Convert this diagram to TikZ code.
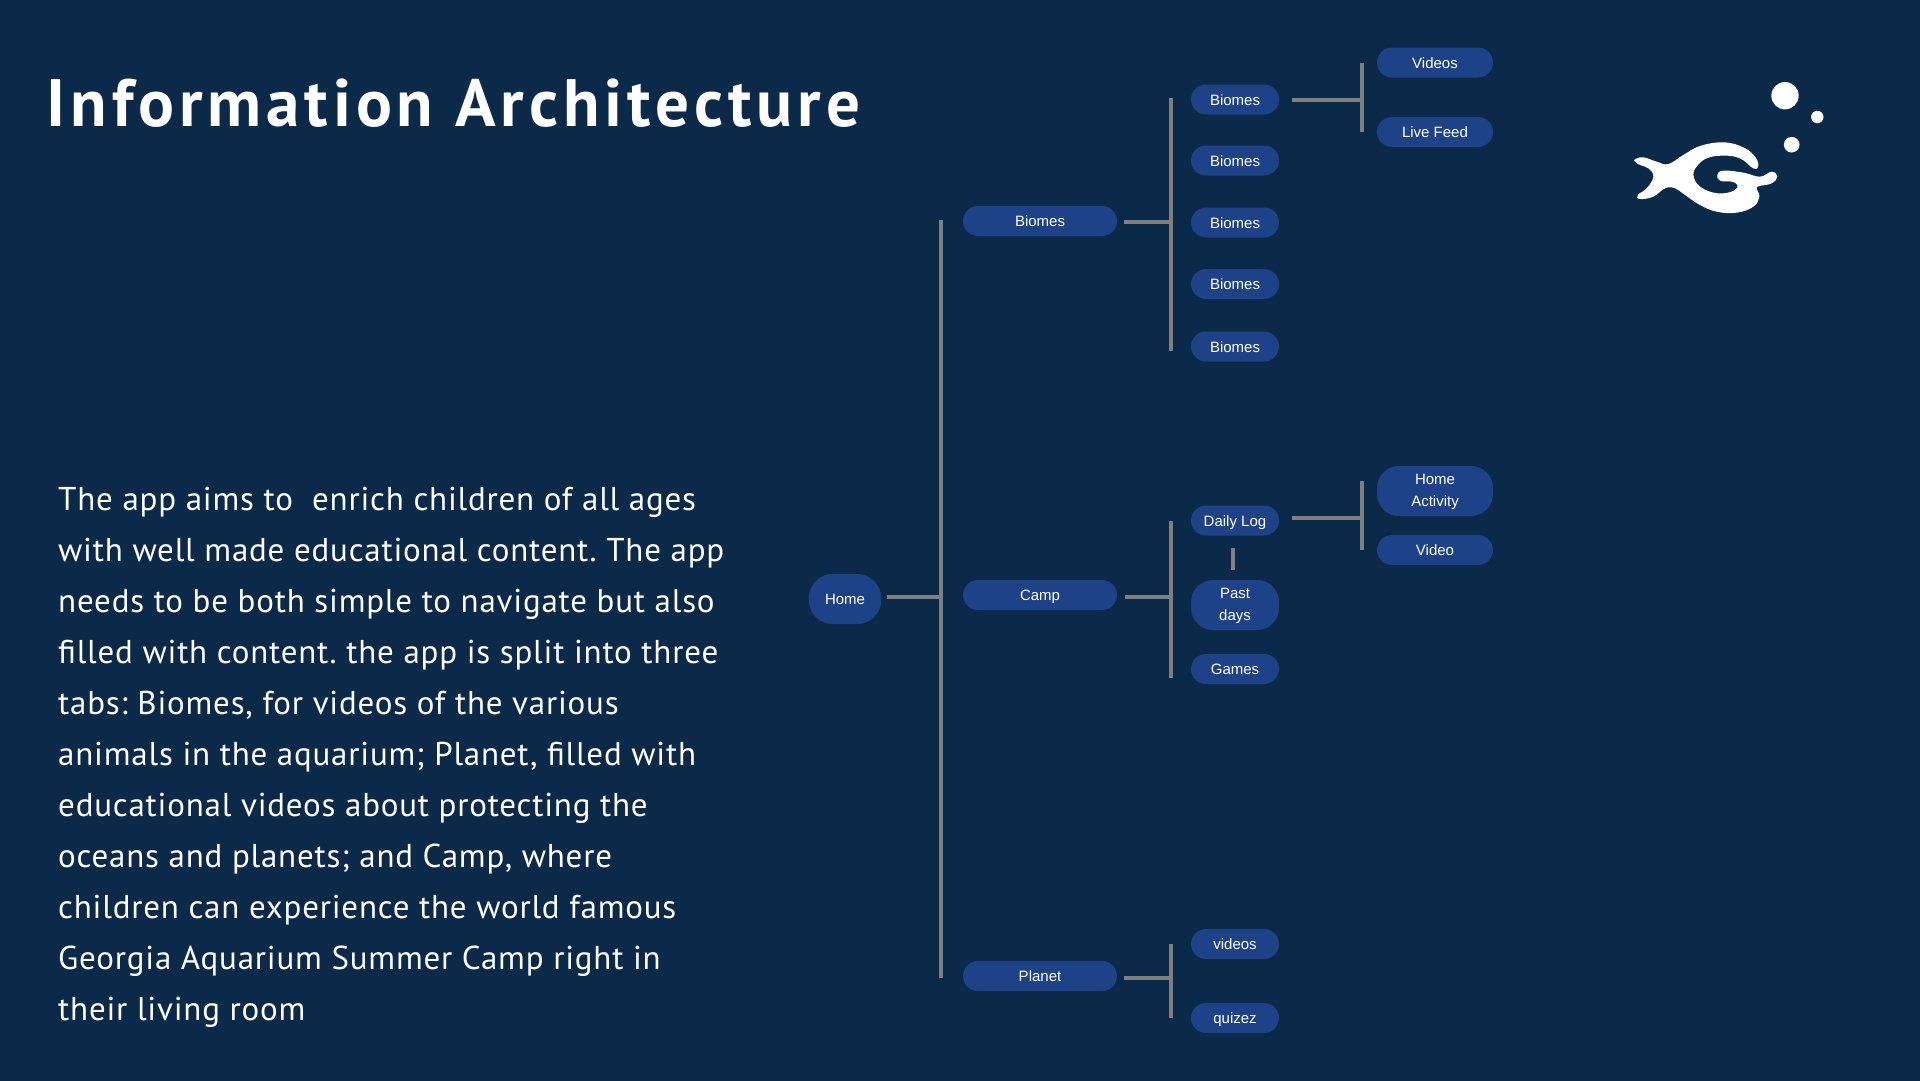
\documentclass[tikz,border=0pt]{standalone}
\usepackage{fontspec}
\setmainfont{PT Sans}
\newfontfamily\labelfont{Liberation Sans}
\definecolor{bgblue}{HTML}{0B2949}
\definecolor{pillblue}{HTML}{1E4288}
\definecolor{linegray}{HTML}{808080}
\newcommand{\firstline}{\rule{0pt}{12.8pt}}
\frenchspacing
\tikzset{
  pill/.style={fill=pillblue,rounded corners=15pt,inner sep=0pt,text=white,align=center,
    font=\labelfont\fontsize{15}{22}\selectfont},
  oneline/.style={text height=11pt,text depth=0pt},
  wide/.style={pill,oneline,minimum width=154pt,minimum height=30pt},
  mid/.style={pill,oneline,minimum width=88pt,minimum height=30pt},
  tall/.style={pill,minimum width=88pt,minimum height=50pt,rounded corners=22pt},
  far/.style={pill,oneline,minimum width=116pt,minimum height=30pt},
  fartall/.style={pill,minimum width=116pt,minimum height=50pt,rounded corners=22pt},
  trunk/.style={draw=linegray,line width=3.6pt},
  branch/.style={draw=linegray,line width=4pt},
}
\begin{document}
\begin{tikzpicture}[x=1pt,y=-1pt]
\useasboundingbox (0,0) rectangle (1920,1080);
\fill[bgblue] (-5,-5) rectangle (1925,1085);
\node[anchor=base west,text=white,font=\bfseries\fontsize{67}{70}\selectfont\addfontfeature{LetterSpace=7.4}] (title) at (43,126) {Information Architecture};
\node[anchor=north west,text=white,inner sep=0pt,align=left,font=\fontsize{33}{51}\selectfont\addfontfeature{LetterSpace=2.4}] (body) at (58,487) {The app aims to\ \ enrich children of all ages\\
with well made educational content. The app\\
needs to be both simple to navigate but also\\
filled with content. the app is split into three\\
tabs: Biomes, for videos of the various\\
animals in the aquarium; Planet, filled with\\
educational videos about protecting the\\
oceans and planets; and Camp, where\\
children can experience the world famous\\
Georgia Aquarium Summer Camp right in\\
their living room};
% nodes
\node[pill,oneline,minimum width=72.5pt,minimum height=50pt,rounded corners=24pt] (home) at (845,599) {Home};
\node[wide] (biomes) at (1040,221) {Biomes};
\node[wide] (camp) at (1040,595) {Camp};
\node[wide] (planet) at (1040,976) {Planet};
\node[mid] (b1) at (1235,99.5) {Biomes};
\node[mid] (b2) at (1235,160.5) {Biomes};
\node[mid] (b3) at (1235,222.5) {Biomes};
\node[mid] (b4) at (1235,284) {Biomes};
\node[mid] (b5) at (1235,346.5) {Biomes};
\node[far] (videos) at (1435,62.5) {Videos};
\node[far] (live) at (1435,132) {Live Feed};
\node[mid] (daily) at (1235,520.5) {Daily Log};
\node[tall] (past) at (1235,605) {\firstline Past\\days};
\node[mid] (games) at (1235,669) {Games};
\node[fartall] (activity) at (1435,491) {\firstline Home\\Activity};
\node[far] (video) at (1435,550) {Video};
\node[mid] (vids) at (1235,944) {videos};
\node[mid] (quiz) at (1235,1018) {quizez};
% brackets
\coordinate (trunktop) at (941,220);
\coordinate (trunkbot) at (941,978);
\draw[trunk] (trunktop) -- (trunkbot);
\coordinate (homeout) at (887,597);
\draw[branch] (homeout) -- (homeout -| trunktop);
\coordinate (bT) at (1171,98);
\coordinate (bB) at (1171,351);
\draw[trunk] (bT) -- (bB);
\coordinate (biomesout) at (1124,221.5);
\draw[branch] (biomesout) -- (biomesout -| bT);
\coordinate (cT) at (1171,521);
\coordinate (cB) at (1171,678);
\draw[trunk] (cT) -- (cB);
\coordinate (campout) at (1125,597);
\draw[branch] (campout) -- (campout -| cT);
\coordinate (pT) at (1171,944);
\coordinate (pB) at (1171,1018);
\draw[trunk] (pT) -- (pB);
\coordinate (planetout) at (1124,978);
\draw[branch] (planetout) -- (planetout -| pT);
\coordinate (vT) at (1362,62.5);
\coordinate (vB) at (1362,132);
\draw[trunk] (vT) -- (vB);
\coordinate (b1out) at (1292,99.5);
\draw[branch] (b1out) -- (b1out -| vT);
\coordinate (aT) at (1362,481);
\coordinate (aB) at (1362,550);
\draw[trunk] (aT) -- (aB);
\coordinate (dailyout) at (1292,518);
\draw[branch] (dailyout) -- (dailyout -| aT);
\coordinate (dp1) at (1233,548);
\coordinate (dp2) at (1233,570);
\draw[trunk] (dp1) -- (dp2);
% logo
\fill[white] (1785,95.7) circle (13.7);
\fill[white] (1817.3,117) circle (6.2);
\fill[white] (1791.7,144.7) circle (7.8);
\begin{scope}[shift={(1600,60)},x=0.3333pt,y=-0.3333pt]
\fill[white] plot[smooth cycle,tension=0.7] coordinates {
(105,298)(130,292)(170,305)(205,312)(250,285)(300,258)(370,247)(430,262)(465,290)(475,318)(460,325)(420,295)(370,287)(320,295)(290,320)(280,345)(295,375)(330,395)(370,400)(405,390)(412,375)(395,365)(360,362)(352,345)(370,332)(430,338)(480,350)(515,335)(532,350)(515,370)(480,378)(470,385)(478,410)(460,440)(410,458)(350,455)(300,435)(255,405)(225,385)(195,385)(160,410)(120,417)(113,405)(140,385)(160,350)(145,325)(120,315)(105,305)};
\end{scope}
\end{tikzpicture}
\end{document}
